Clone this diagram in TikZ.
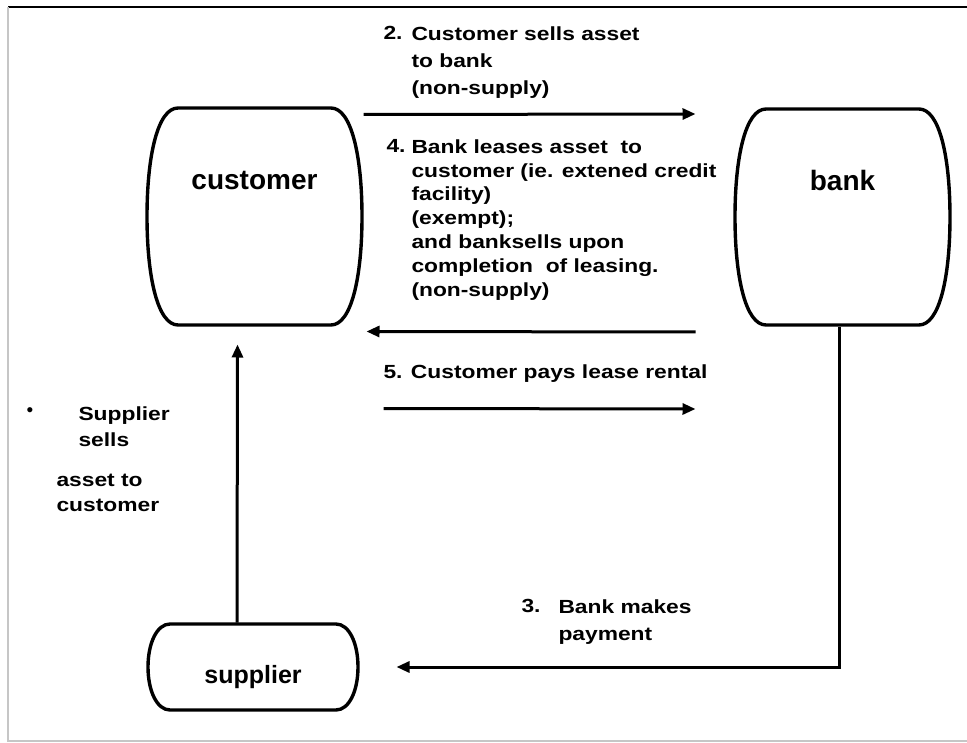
\documentclass[tikz,border=0pt]{standalone}
\usepackage{fontspec}
\setmainfont{Liberation Sans}
\newfontfamily\widefont[FakeStretch=1.2]{Liberation Sans}
\usetikzlibrary{arrows.meta}

\begin{document}
\begin{tikzpicture}[x=1pt, y=-1pt, line width=3pt,
  >={Triangle[length=13pt,width=11pt]},
  box/.style={minimum width=215pt, minimum height=217pt, inner sep=0pt},
  outline/.style={line width=3.4pt},
  lbl/.style={font=\bfseries\fontsize{28}{30}\selectfont},
  txt/.style={anchor=north west, inner sep=0pt, align=left,
    font=\widefont\bfseries\fontsize{19}{23.8}\selectfont},
  txtloose/.style={txt, font=\widefont\bfseries\fontsize{19}{27}\selectfont}]
\useasboundingbox (0,0) rectangle (967,743);
% frame
\draw[line width=1.8pt] (8,7) -- (967,7);
\draw[gray!45, line width=2.5pt] (8,7) -- (8,741) -- (967,741);

% boxes
\node[box, label={[lbl, yshift=36pt]center:customer}] (customer) at (254.5,216.5) {};
\node[box, label={[lbl, yshift=37pt]center:bank}] (bank) at (842.5,217) {};
\node[box, minimum width=210pt, minimum height=86pt,
  label={[lbl, font=\bfseries\fontsize{25}{27}\selectfont, yshift=-10pt]center:supplier}] (supplier) at (253,667) {};
\draw[outline, shift={(customer.center)}] (-76.5,-108.5) -- (76.5,-108.5)
  .. controls (97,-108.5) and (107.5,-60) .. (107.5,0)
  .. controls (107.5,60) and (97,108.5) .. (76.5,108.5) -- (-76.5,108.5)
  .. controls (-97,108.5) and (-107.5,60) .. (-107.5,0)
  .. controls (-107.5,-60) and (-97,-108.5) .. (-76.5,-108.5) -- cycle;
\draw[outline, shift={(bank.center)}] (-76.5,-108) -- (76.5,-108)
  .. controls (97,-108) and (107.5,-60) .. (107.5,0)
  .. controls (107.5,60) and (97,108) .. (76.5,108) -- (-76.5,108)
  .. controls (-97,108) and (-107.5,60) .. (-107.5,0)
  .. controls (-107.5,-60) and (-97,-108) .. (-76.5,-108) -- cycle;
\draw[outline, shift={(supplier.center)}] (-83,-43) -- (83,-43)
  .. controls (96,-43) and (105,-24) .. (105,0)
  .. controls (105,24) and (96,43) .. (83,43) -- (-83,43)
  .. controls (-96,43) and (-105,24) .. (-105,0)
  .. controls (-105,-24) and (-96,-43) .. (-83,-43) -- cycle;

% texts
\node[txtloose] (n2) at (382,25) {2.};
\node[txtloose] (t2) at (410,25) {Customer sells asset\\to bank\\(non-supply)};
\node[txt] (n4) at (385,138) {4.};
\node[txt] (t4) at (410,138) {Bank leases asset\ \ to\\customer (ie. extened credit\\facility)\\(exempt);\\and banksells upon\\completion\ \ of leasing.\\(non-supply)};
\node[txt] (t5) at (382,363) {5. Customer pays lease rental};
\node[txtloose] (n3) at (520,598) {3.};
\node[txtloose] (t3) at (557,598) {Bank makes\\payment};
\node[font=\fontsize{19}{20}\selectfont] (dot) at (30,412) {\textbullet};
\node[txt, font=\widefont\bfseries\fontsize{19}{26}\selectfont] (t1a) at (77,405) {Supplier\\sells};
\node[txt, font=\widefont\bfseries\fontsize{19}{25}\selectfont] (t1b) at (55,473) {asset to\\customer};

% flows
\draw[->] ([yshift=-8pt]customer.north east) -- ([xshift=-38pt,yshift=-7pt]bank.north west);
\draw[->] ([xshift=-38pt,yshift=-5pt]bank.south west) -- ([xshift=3pt,yshift=-5pt]customer.south east);
\draw[->] ([xshift=20pt,yshift=-82pt]customer.south east) -- ([xshift=-38pt,yshift=-82pt]bank.south west);
\draw[->] ([xshift=-3pt]bank.south) |- ([xshift=37pt]supplier.east);
\draw[->] ([xshift=-16pt]supplier.north) -- ([xshift=-17pt,yshift=-18pt]customer.south);
\end{tikzpicture}
\end{document}
